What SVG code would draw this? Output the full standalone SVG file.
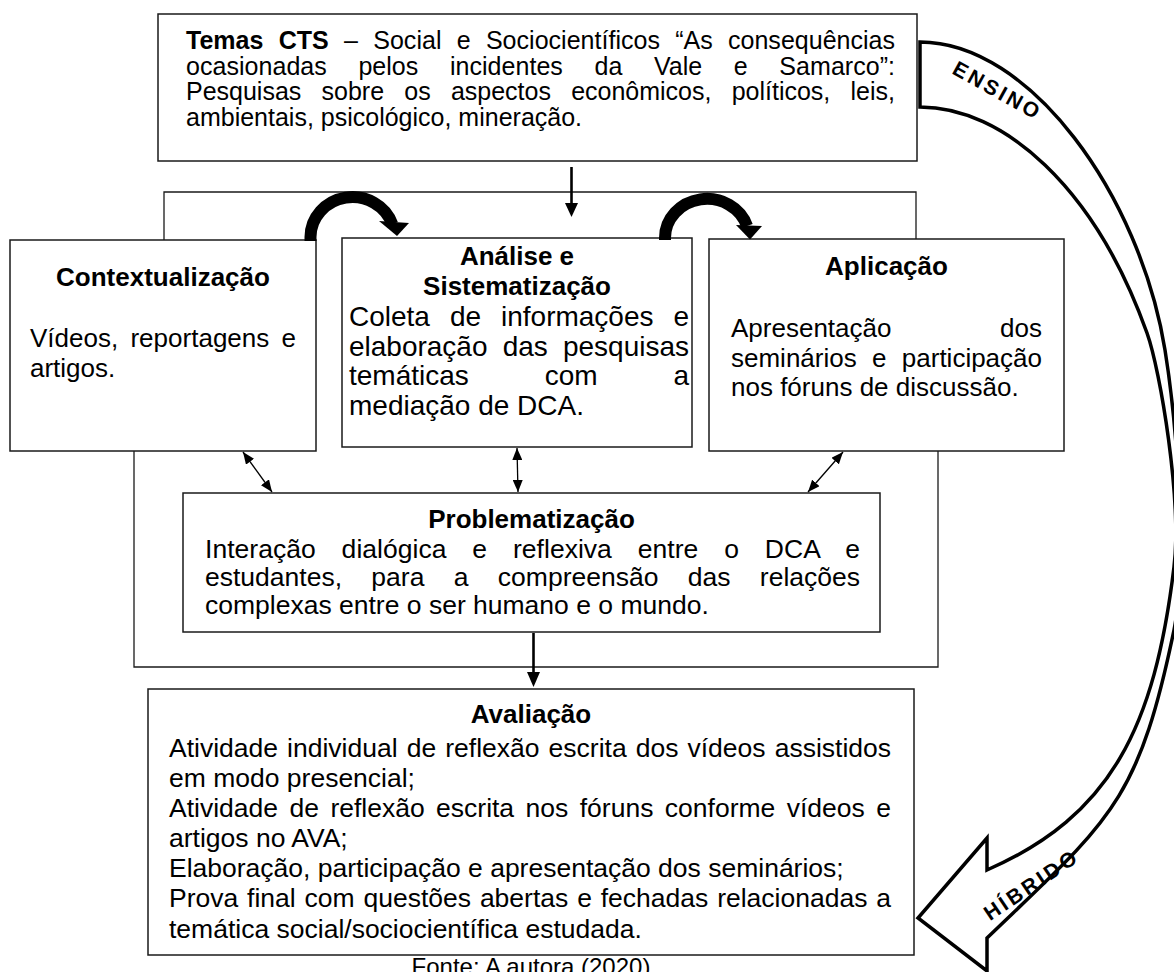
<svg xmlns="http://www.w3.org/2000/svg" width="1174" height="972" viewBox="0 0 1174 972">
<style>
 .box{fill:#fff;stroke:#1a1a1a;stroke-width:1.5}
 .frame{fill:none;stroke:#1a1a1a;stroke-width:1.3}
 text{font-family:"Liberation Sans",Arial,sans-serif;fill:#000}
 .t{font-size:26px}
 .a{font-size:28px}
 .n{font-size:26.5px}
 .top{font-size:25px}
 .b{font-weight:bold}
 .ttl{font-weight:bold;text-anchor:middle;font-size:26px}
 .thin{stroke:#000;stroke-width:1.3;fill:none}
 .thick{stroke:#000;stroke-width:12;fill:none}
 .shaft{stroke:#000;stroke-width:2.6;fill:none}
 .big{fill:#fff;stroke:#000;stroke-width:3.5;stroke-linejoin:miter}
 .lbl{font-weight:bold;font-size:21px;text-anchor:middle;letter-spacing:3px}
</style>
<defs>
 <marker id="ah" viewBox="0 0 12 10" refX="12" refY="5" markerWidth="12" markerHeight="10" markerUnits="userSpaceOnUse" orient="auto-start-reverse"><path d="M0,0 L12,5 L0,10 z" fill="#000"/></marker>
</defs>
<rect width="1174" height="972" fill="#fff"/>

<g id="frame">
 <path class="frame" d="M164 240 V192 H916 V239"/>
 <path class="frame" d="M134 451 V667 H938 V451"/>
</g>

<g id="top-box">
 <rect class="box" x="158" y="14" width="759" height="147"/>
 <text class="top" x="186" y="49" word-spacing="8.3" textLength="709" lengthAdjust="spacing"><tspan class="b">Temas CTS</tspan> – Social e Sociocientíficos “As consequências</text>
 <text class="top" x="186" y="74.5" word-spacing="24.6" textLength="709" lengthAdjust="spacing">ocasionadas pelos incidentes da Vale e Samarco”:</text>
 <text class="top" x="186" y="100" word-spacing="13.3" textLength="709" lengthAdjust="spacing">Pesquisas sobre os aspectos econômicos, políticos, leis,</text>
 <text class="top" x="186" y="125.5">ambientais, psicológico, mineração.</text>
</g>

<g id="contextualizacao">
 <rect class="box" x="10" y="240" width="306" height="211"/>
 <text class="ttl" x="163" y="286">Contextualização</text>
 <text class="t" x="30" y="347" word-spacing="5" textLength="266" lengthAdjust="spacing">Vídeos, reportagens e</text>
 <text class="t" x="30" y="377">artigos.</text>
</g>

<g id="analise">
 <rect class="box" x="342" y="238" width="350" height="209"/>
 <text class="ttl" x="517" y="265">Análise e</text>
 <text class="ttl" x="517" y="295">Sistematização</text>
 <text class="a" x="349" y="326" word-spacing="12.2" textLength="340" lengthAdjust="spacing">Coleta de informações e</text>
 <text class="a" x="349" y="356" word-spacing="7.4" textLength="340" lengthAdjust="spacing">elaboração das pesquisas</text>
 <text class="a" x="349" y="385" word-spacing="68.1" textLength="340" lengthAdjust="spacing">temáticas com a</text>
 <text class="a" x="349" y="415">mediação de DCA.</text>
</g>

<g id="aplicacao">
 <rect class="box" x="709" y="239" width="355" height="212"/>
 <text class="ttl" x="886.5" y="275">Aplicação</text>
 <text class="t" x="731" y="337" word-spacing="101.4" textLength="311" lengthAdjust="spacing">Apresentação dos</text>
 <text class="t" x="731" y="367" word-spacing="8.1" textLength="311" lengthAdjust="spacing">seminários e participação</text>
 <text class="t" x="731" y="396">nos fóruns de discussão.</text>
</g>

<g id="problematizacao">
 <rect class="box" x="183" y="493" width="697" height="139"/>
 <text class="ttl" x="531.5" y="528">Problematização</text>
 <text class="n" x="205" y="557.5" word-spacing="18.5" textLength="655" lengthAdjust="spacing">Interação dialógica e reflexiva entre o DCA e</text>
 <text class="n" x="205" y="586" word-spacing="22" textLength="655" lengthAdjust="spacing">estudantes, para a compreensão das relações</text>
 <text class="n" x="205" y="614">complexas entre o ser humano e o mundo.</text>
</g>

<g id="avaliacao">
 <rect class="box" x="148" y="689" width="766" height="266"/>
 <text class="ttl" x="531" y="723">Avaliação</text>
 <text class="n" x="169" y="757" word-spacing="1.7" textLength="722" lengthAdjust="spacing">Atividade individual de reflexão escrita dos vídeos assistidos</text>
 <text class="n" x="169" y="787">em modo presencial;</text>
 <text class="n" x="169" y="817" word-spacing="4.1" textLength="722" lengthAdjust="spacing">Atividade de reflexão escrita nos fóruns conforme vídeos e</text>
 <text class="n" x="169" y="847">artigos no AVA;</text>
 <text class="n" x="169" y="877">Elaboração, participação e apresentação dos seminários;</text>
 <text class="n" x="169" y="907" word-spacing="1.5" textLength="722" lengthAdjust="spacing">Prova final com questões abertas e fechadas relacionadas a</text>
 <text class="n" x="169" y="938">temática social/sociocientífica estudada.</text>
</g>

<g id="hybrid-arrow">
 <path class="big" d="M920 42 C1030 42 1140 195 1165 350 C1177.5 427.5 1187 566 1174 630 C1137.8 804.4 1110 819.7 987 938 L987 971 L918 918 L987 838 L987 870 C1111.8 815.4 1154.6 726.9 1174 567 C1182 501 1160.4 370.6 1147 333 C1094.6 186.4 1003 107 920 107 Z"/>
 <text class="lbl" x="998" y="98" transform="rotate(29 998 90)">ENSINO</text>
 <text class="lbl" x="1031" y="892" transform="rotate(-34 1031 884)">HÍBRIDO</text>
</g>

<g id="connectors">
 <path class="shaft" d="M571.5 167 V205"/>
 <polygon points="565,203 578,203 571.5,217" fill="#000"/>
 <path class="thick" d="M310.5 241 V237 A42 40 0 0 1 392.2 224"/>
 <polygon points="379,221 409,223 397,236" fill="#000"/>
 <path class="thick" d="M665 240 V238 A42 39 0 0 1 747 226"/>
 <polygon points="736,225 762,226 750,239.5" fill="#000"/>
 <line class="thin" x1="243" y1="452" x2="272" y2="492" marker-start="url(#ah)" marker-end="url(#ah)"/>
 <line class="thin" x1="517" y1="448" x2="518" y2="492" marker-start="url(#ah)" marker-end="url(#ah)"/>
 <line class="thin" x1="843" y1="452" x2="808" y2="492" marker-start="url(#ah)" marker-end="url(#ah)"/>
 <path class="shaft" d="M533.5 633 V674"/>
 <polygon points="527,672 540,672 533.5,687" fill="#000"/>
</g>

<g id="caption">
 <text x="531" y="975" font-size="24" text-anchor="middle">Fonte: A autora (2020)</text>
</g>
</svg>
